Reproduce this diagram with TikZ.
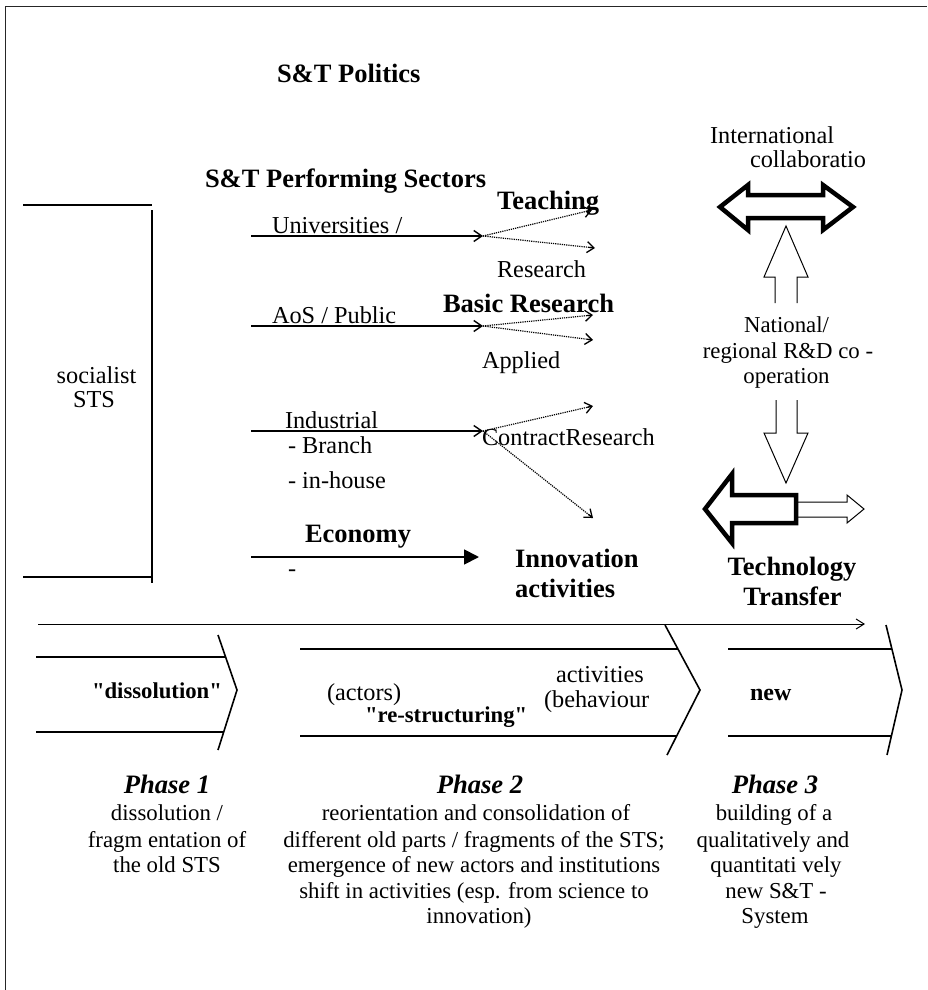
\documentclass[tikz,border=0pt]{standalone}
\usepackage{fontspec}
\setmainfont{Liberation Serif}[Ligatures=TeXOff]
\usetikzlibrary{arrows.meta,calc}
\begin{document}
\begin{tikzpicture}[x=1pt,y=-1pt,
  every node/.style={inner sep=0pt, outer sep=0pt},
  nt/.style={font=\fontsize{24.3}{28}\selectfont},
  st/.style={font=\fontsize{22.8}{26}\selectfont},
  bt/.style={font=\fontsize{26.5}{30}\selectfont\bfseries},
  cb/.style={font=\fontsize{22.7}{26}\selectfont\bfseries},
  ph/.style={font=\fontsize{26.6}{30}\selectfont\bfseries\itshape},
  frameline/.style={line width=1pt, draw=black!85},
  bracket/.style={line width=1.4pt},
  secarrow/.style={line width=1.6pt, -{Straight Barb[length=8pt,width=11pt,line width=1.4pt]}},
  econarrow/.style={line width=1.8pt, -{Triangle[length=15pt,width=15pt]}},
  dotline/.style={line width=1.2pt, dash pattern=on 1.2pt off 1pt, shorten >=2pt},
  dottip/.style={solid, line width=1.2pt, -{Straight Barb[length=7pt,width=11pt,line width=1.3pt]}},
  timearrow/.style={line width=1pt, -{Straight Barb[length=8pt,width=10pt]}},
  chevron/.style={line width=1.6pt},
  thinblock/.style={line width=1pt, fill=white, line join=miter},
  thickblock/.style={line width=4.5pt, fill=white, line join=miter}
]
\useasboundingbox (0,0) rectangle (927,990);

% frame
\draw[frameline] (5.5,990) -- (5.5,7) -- (927,7);

% left bracket
\draw[bracket] (23,205) -- (152,205);
\draw[bracket] (152,210) -- (152,583);
\draw[bracket] (23,577) -- (152,577);
\node[nt, anchor=base] (soc1) at (96.5,383) {socialist};
\node[nt, anchor=base] (soc2) at (94,407) {STS};

% headings
\node[bt, anchor=base west] (pol) at (277,82) {S\&T Politics};
\node[bt, anchor=base west] (sect) at (205,187) {S\&T Performing Sectors};

% row 1
\node[nt, anchor=base west] (univ) at (272,233) {Universities /};
\coordinate (u0) at (251,236); \coordinate (u1) at (483,236);
\coordinate (u2) at (592,210); \coordinate (u3) at (595,248);
\draw[secarrow] (u0) -- (u1);
\draw[dotline] (u1) -- (u2); \draw[dottip] ($(u2)!6pt!(u1)$) -- (u2);
\draw[dotline] (u1) -- (u3); \draw[dottip] ($(u3)!6pt!(u1)$) -- (u3);
\node[bt, anchor=base west] (teach) at (497,209) {Teaching};
\node[nt, anchor=base west] (res1) at (497,277) {Research};

% row 2
\node[nt, anchor=base west] (aos) at (272,323) {AoS / Public};
\coordinate (a0) at (251,326); \coordinate (a1) at (483,326);
\coordinate (a2) at (593,315); \coordinate (a3) at (593,340);
\draw[secarrow] (a0) -- (a1);
\draw[dotline] (a1) -- (a2); \draw[dottip] ($(a2)!6pt!(a1)$) -- (a2);
\draw[dotline] (a1) -- (a3); \draw[dottip] ($(a3)!6pt!(a1)$) -- (a3);
\node[bt, anchor=base west] (basic) at (443,312) {Basic Research};
\node[nt, anchor=base west] (appl) at (482,368) {Applied};

% row 3
\node[nt, anchor=base west] (ind) at (285,428) {Industrial};
\node[nt, anchor=base west] (branch) at (288,453) {- Branch};
\node[nt, anchor=base west] (inh) at (288,488) {- in-house};
\coordinate (i0) at (251,431); \coordinate (i1) at (483,431);
\coordinate (i2) at (593,406); \coordinate (i3) at (593,518);
\draw[secarrow] (i0) -- (i1);
\draw[dotline] (i1) -- (i2); \draw[dottip] ($(i2)!6pt!(i1)$) -- (i2);
\draw[dotline] (i1) -- (i3); \draw[dottip] ($(i3)!6pt!(i1)$) -- (i3);
\node[nt, anchor=base west] (contr) at (482,445) {ContractResearch};

% row 4
\node[bt, anchor=base west] (econ) at (305,542) {Economy};
\node[nt, anchor=base west] (edash) at (288,576) {-};
\coordinate (e0) at (251,557); \coordinate (e1) at (479,557);
\draw[econarrow] (e0) -- (e1);
\node[bt, anchor=base west] (inno1) at (515,567) {Innovation};
\node[bt, anchor=base west] (inno2) at (515,597) {activities};

% right column
\node[nt, anchor=base west] (intl1) at (710,143) {International};
\node[nt, anchor=base west] (intl2) at (750,167) {collaboratio};
\draw[thickblock] (720,207) -- (748,185) -- (748,195) -- (823,195) -- (823,185)
  -- (853,207) -- (823,230) -- (823,218) -- (748,218) -- (748,230) -- cycle;
\draw[thinblock] (775,303) -- (775,277) -- (764,277) -- (786,226) -- (808,277)
  -- (797,277) -- (797,303);
\node[st, anchor=base] (nat1) at (786.5,332) {National/};
\node[st, anchor=base] (nat2) at (788,358) {regional R\&D co -};
\node[st, anchor=base] (nat3) at (786.5,383) {operation};
\draw[thinblock] (776,400) -- (776,433) -- (764,433) -- (786,483) -- (808,433)
  -- (797,433) -- (797,400);
\draw[thinblock] (797,502) -- (847,502) -- (847,495) -- (864,509) -- (847,523)
  -- (847,517) -- (797,517);
\draw[thickblock] (705,509) -- (732,474) -- (732,495) -- (796,495) -- (796,523)
  -- (732,523) -- (732,543) -- cycle;
\node[bt, anchor=base] (tech1) at (792,575) {Technology};
\node[bt, anchor=base] (tech2) at (792.5,605) {Transfer};

% time arrow
\coordinate (t0) at (38,624); \coordinate (t1) at (865,624);
\draw[timearrow] (t0) -- (t1);

% phase chevrons
\draw[chevron] (36,657) -- (225,657);
\draw[chevron] (36,732) -- (224,732);
\draw[chevron] (218,635) -- (237,690) -- (218,750);
\node[cb, anchor=base west] (diss) at (92,698) {"dissolution"};

\draw[chevron] (300,649) -- (678,649);
\draw[chevron] (300,736) -- (677,736);
\draw[chevron] (665,625) -- (700,690) -- (667,755);
\node[nt, anchor=base west] (actors) at (327,700) {(actors)};
\node[cb, anchor=base west] (restr) at (365,722) {"re-structuring"};
\node[nt, anchor=base west] (act2) at (556,682) {activities};
\node[nt, anchor=base west] (behav) at (544,707) {(behaviour};

\draw[chevron] (728,649) -- (892,649);
\draw[chevron] (728,736) -- (891,736);
\draw[chevron] (886,625) -- (902,690) -- (887,755);
\node[anchor=base west, font=\fontsize{24}{26}\selectfont\bfseries] (newl) at (750,700) {new};

% phase descriptions
\node[ph, anchor=base] (p1) at (167,793) {Phase 1};
\node[st, anchor=base] (p1a) at (167,820) {dissolution /};
\node[st, anchor=base] (p1b) at (167,847) {fragm entation of};
\node[st, anchor=base] (p1c) at (167,872) {the old STS};

\node[ph, anchor=base] (p2) at (480,793) {Phase 2};
\node[st, anchor=base] (p2a) at (476,820) {reorientation and consolidation of};
\node[st, anchor=base] (p2b) at (474,847) {different old parts / fragments of the STS;};
\node[st, anchor=base] (p2c) at (474,872) {emergence of new actors and institutions};
\node[st, anchor=base] (p2d) at (474,898) {shift in activities (esp. from science to};
\node[st, anchor=base] (p2e) at (479,923) {innovation)};

\node[ph, anchor=base] (p3) at (775,793) {Phase 3};
\node[st, anchor=base] (p3a) at (774,820) {building of a};
\node[st, anchor=base] (p3b) at (773,847) {qualitatively and};
\node[st, anchor=base] (p3c) at (776,872) {quantitati vely};
\node[st, anchor=base] (p3d) at (776,898) {new S\&T -};
\node[st, anchor=base] (p3e) at (775,923) {System};
\end{tikzpicture}
\end{document}
